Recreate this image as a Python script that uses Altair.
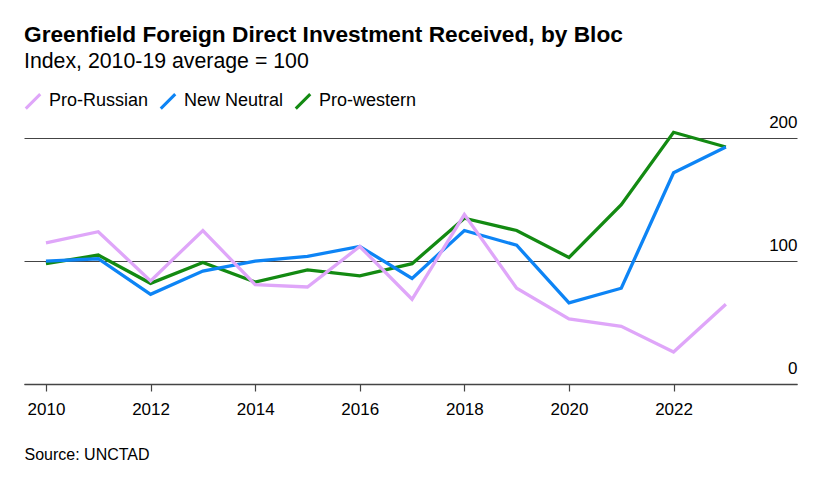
import altair as alt
import pandas as pd

years = list(range(2010, 2024))
pro_russian = [115, 124, 84, 125, 81, 79, 112, 69, 138, 78, 53, 47, 26, 65]
new_neutral = [100, 102, 73, 92, 100, 104, 112, 86, 125, 113, 66, 78, 172, 193]
pro_western = [98, 105, 82, 99, 83, 93, 88, 98, 135, 125, 103, 146, 205, 193]

series_names = ["Pro-Russian", "New Neutral", "Pro-western"]
series_colors = ["#dfa6f9", "#0d84f5", "#138a12"]
x_ticks = [2010, 2012, 2014, 2016, 2018, 2020, 2022]
y_ticks = [0, 100, 200]

rows = []
for name, vals, order in [("Pro-western", pro_western, 0), ("New Neutral", new_neutral, 1), ("Pro-Russian", pro_russian, 2)]:
    for yr, v in zip(years, vals):
        rows.append({"year": yr, "value": v, "bloc": name, "ord": order})
df = pd.DataFrame(rows)

FONT = "Liberation Sans"

chart = alt.Chart(df).mark_line(strokeWidth=3.3, clip=False).encode(
    x=alt.X("year:Q",
            scale=alt.Scale(domain=[2009.58, 2024.36], nice=False, zero=False),
            axis=alt.Axis(values=x_ticks, format="d", grid=False, domain=True,
                          domainColor="#444444", domainWidth=1.5,
                          ticks=True, tickSize=7, tickColor="#444444", tickWidth=1.2,
                          labelFontSize=17, labelColor="#000000", labelFont=FONT,
                          labelPadding=10,
                          title="Source: UNCTAD", titleFont=FONT, titleFontSize=16,
                          titleFontWeight="normal", titleColor="#000000",
                          titleAlign="left", titleAnchor="start", titleX=0, titleY=75,
                          titleBaseline="alphabetic")),
    y=alt.Y("value:Q",
            scale=alt.Scale(domain=[0, 215], nice=False),
            axis=alt.Axis(orient="right", values=y_ticks, grid=True, gridColor="#444444",
                          gridWidth=1, domain=False, ticks=False, tickSize=0,
                          labelAlign="right", labelPadding=0, labelBaseline="alphabetic",
                          labelOffset=-11, labelFontSize=17, labelFont=FONT,
                          labelColor="#000000", title=None)),
    color=alt.Color("bloc:N",
                    scale=alt.Scale(domain=series_names, range=series_colors),
                    legend=alt.Legend(orient="none", legendX=0, legendY=-28,
                                      direction="horizontal", title=None,
                                      symbolType="M-1,1L1,-1", symbolSize=210,
                                      symbolStrokeWidth=3, labelFontSize=18,
                                      labelFont=FONT, labelColor="#000000",
                                      labelOffset=7, columnPadding=5)),
    detail="ord:O",
    order="ord:O",
).properties(
    width=773,
    height=264,
    title=alt.TitleParams(
        text="Greenfield Foreign Direct Investment Received, by Bloc",
        subtitle="Index, 2010-19 average = 100",
        anchor="start", frame="group", font=FONT, fontSize=22.7, fontWeight="bold",
        color="#000000", subtitleFont=FONT, subtitleFontSize=21.3,
        subtitleColor="#000000", subtitlePadding=4, offset=20),
    autosize=alt.AutoSizeParams(type="none"),
    padding={"left": 16, "top": 112, "right": 15, "bottom": 80},
).configure_view(stroke=None)

chart.save("out.html", embed_options={"renderer": "svg", "actions": False})
